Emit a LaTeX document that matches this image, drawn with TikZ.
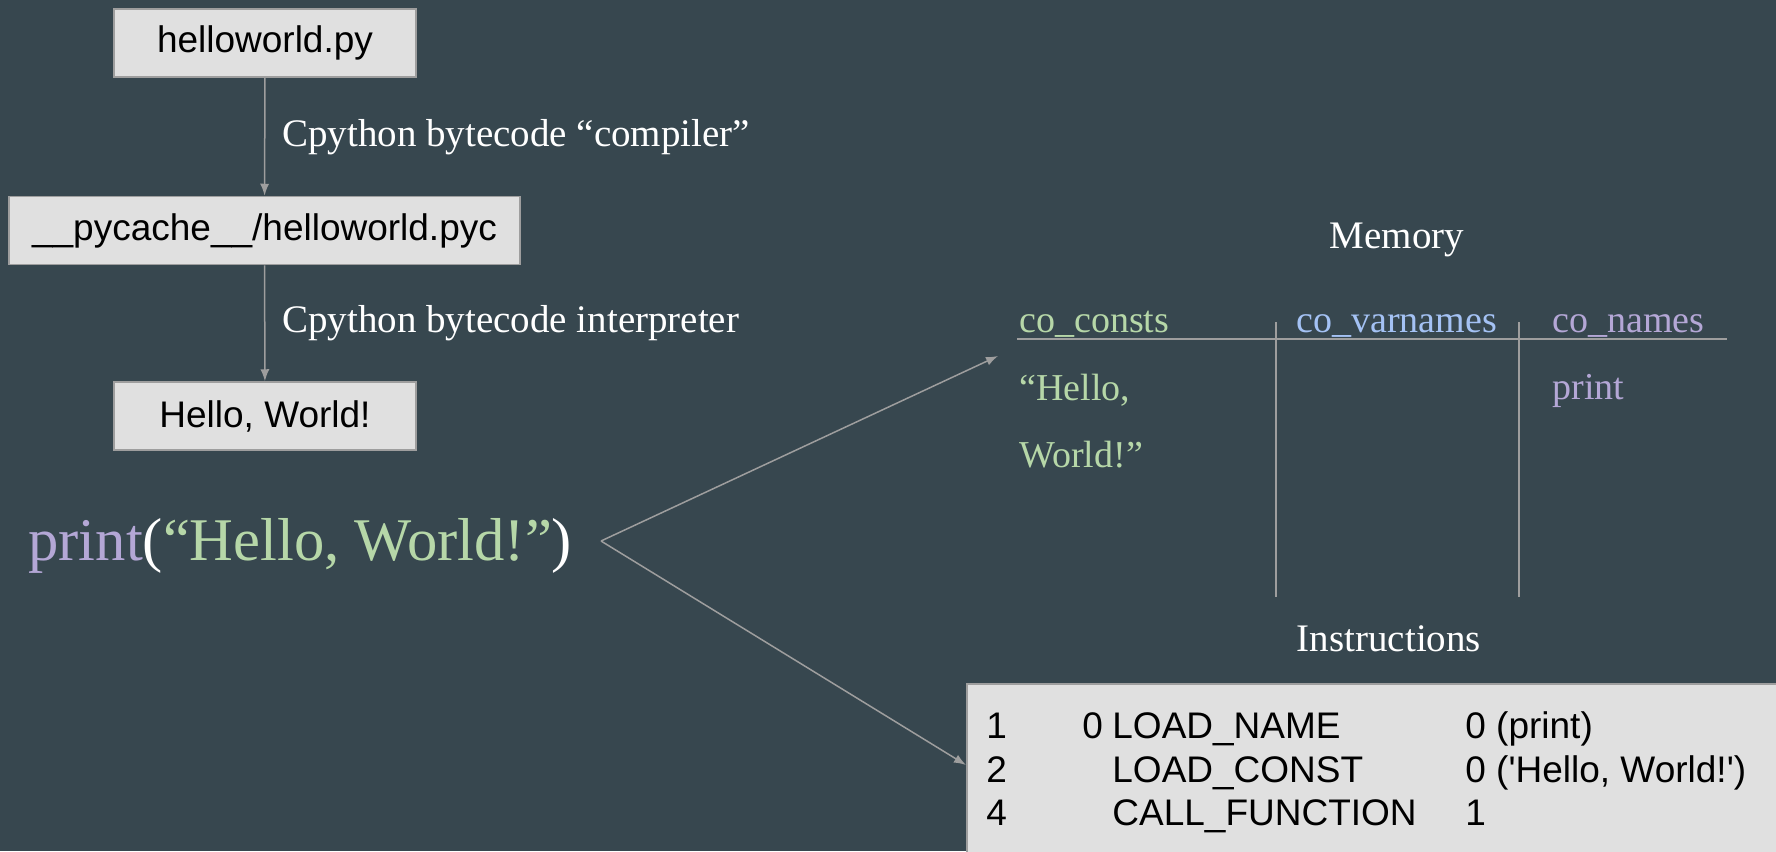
\documentclass[tikz,border=0pt]{standalone}
\usepackage{fontspec}
\setmainfont{Liberation Serif}
\setsansfont{Liberation Sans}
\usetikzlibrary{arrows.meta,positioning}
\definecolor{slate}{HTML}{37474F}
\definecolor{boxgray}{HTML}{E0E0E0}
\definecolor{linegray}{HTML}{9E9E9E}
\definecolor{strgreen}{HTML}{B6D7A8}
\definecolor{varblue}{HTML}{A4C2F4}
\definecolor{namepurple}{HTML}{B4A7D6}
\begin{document}
\begin{tikzpicture}[x=0.5pt, y=-0.5pt,
                    filebox/.style = {draw=linegray,
                                fill=boxgray,
                                line width=0.75pt,
                                minimum height=34pt,
                                inner sep=0pt,
                                font=\sffamily\fontsize{18.5}{22}\selectfont},
                    flow/.style = {draw=linegray,
                                line width=0.75pt,
                                -{Latex[length=6pt,width=4.5pt]}},
                    note/.style = {text=white,
                                font=\fontsize{19.5}{23}\selectfont},
                    col/.style = {anchor=base west,
                                inner sep=0pt,
                                font=\fontsize{19}{23}\selectfont},
                    op/.style = {anchor=base west,
                                inner sep=0pt,
                                font=\sffamily\fontsize{18.5}{22}\selectfont}]
                    \useasboundingbox (0,0) rectangle (1776,851);
                    \fill[slate] (0,0) rectangle (1776,851);
                    % Compile chain
                    \node[filebox, minimum width=151pt] (src) at (265,43) {helloworld.py};
                    \node[filebox, minimum width=255.5pt] (pyc) at (264.5,230.5) {\_\_pycache\_\_/helloworld.pyc};
                    \node[filebox, minimum width=151pt] (out) at (265,416) {Hello, World!};
                    \draw[flow] (src) -- node[note, right=5pt] (compiler) {Cpython bytecode “compiler”} (pyc);
                    \draw[flow] (pyc) -- node[note, right=5pt] (interp) {Cpython bytecode interpreter} (out);
                    % Source line
                    \node[anchor=base west, inner sep=0pt, text=white,
                          font=\fontsize{30.3}{36}\selectfont] (code) at (28,560)
                          {\textcolor{namepurple}{print}(\textcolor{strgreen}{“Hello, World!”})};
                    \coordinate (fork) at (601,541);
                    \coordinate (memin) at (998,356);
                    % Memory table
                    \node[note, anchor=base] (memory) at (1397,248) {Memory};
                    \node[col, text=strgreen] (consts) at (1019,332) {co\_consts};
                    \node[col, text=varblue] (varnames) at (1296,332) {co\_varnames};
                    \node[col, text=namepurple] (names) at (1552,332) {co\_names};
                    \draw[linegray, line width=1pt] (1017,339) -- (1727,339);
                    \draw[linegray, line width=0.75pt] (1276,322) -- (1276,597);
                    \draw[linegray, line width=0.75pt] (1519,322) -- (1519,597);
                    \node[col, text=strgreen] (hello) at (1019,400) {“Hello,};
                    \node[col, text=strgreen] (world) at (1019,467) {World!”};
                    \node[col, text=namepurple] (printname) at (1552,399) {print};
                    % Instructions
                    \node[note, anchor=base] (instrlabel) at (1389,651) {Instructions};
                    \node[draw=linegray, fill=boxgray, line width=0.75pt, anchor=north west,
                          minimum width=420pt, minimum height=90pt] (instr) at (966,683) {};
                    \node[op] (line1) at (986,738) {1};
                    \node[op] (offset1) at (1082,738) {0};
                    \node[op] (op1) at (1112,738) {LOAD\_NAME};
                    \node[op] (arg1) at (1465,738) {0 (print)};
                    \node[op] (line2) at (986,782) {2};
                    \node[op] (op2) at (1112,782) {LOAD\_CONST};
                    \node[op] (arg2) at (1465,782) {0 (\textquotesingle Hello, World!\textquotesingle)};
                    \node[op] (line3) at (986,825) {4};
                    \node[op] (op3) at (1112,825) {CALL\_FUNCTION};
                    \node[op] (arg3) at (1465,825) {1};
                    % Fork arrows
                    \draw[flow] (fork) -- (memin);
                    \draw[flow] (fork) -- ([yshift=-41pt]instr.north west);
                \end{tikzpicture}
\end{document}
